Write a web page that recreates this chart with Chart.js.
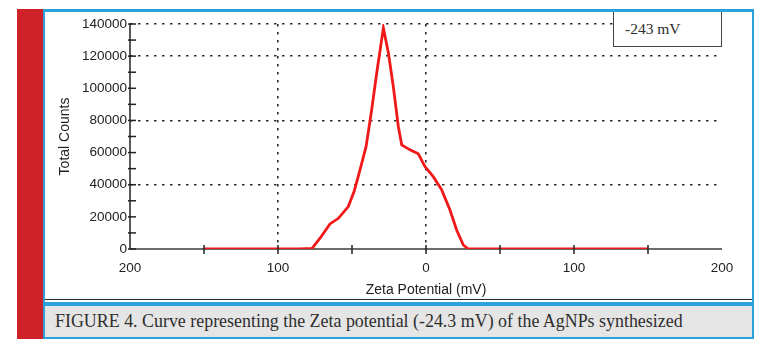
<!DOCTYPE html>
<html>
<head>
<meta charset="utf-8">
<script src="https://cdn.jsdelivr.net/npm/chart.js@4/dist/chart.umd.min.js"></script>
<style>
html,body{margin:0;padding:0;background:#fff;}
#wrap{position:relative;width:768px;height:356px;overflow:hidden;background:#fff;}
#redbar{position:absolute;left:17px;top:9px;width:26px;height:330px;background:#cf2128;}
#frame{position:absolute;left:43px;top:9px;width:707px;height:325px;border-left:2px solid #2aa2db;border-right:2px solid #2aa2db;border-top:3px solid #2aa2db;border-bottom:2px solid #2aa2db;background:#fff;}
#darkline{position:absolute;left:45px;top:299px;width:707px;height:1px;background:#2b2b2b;}
#blueline{position:absolute;left:45px;top:302px;width:707px;height:4px;background:#2aa2db;}
#caption{position:absolute;left:45px;top:306px;width:707px;height:31px;background:#e5e5e5;}
#captext{position:absolute;left:10px;top:0;line-height:31px;height:31px;white-space:nowrap;font-family:"Liberation Serif",serif;font-size:16.5px;color:#2e2e2e;}
#chartbox{position:absolute;left:45px;top:12px;width:707px;height:287px;}
#legendbox{position:absolute;left:613px;top:12px;width:107px;height:34px;border-left:1.5px solid #444;border-right:1.5px solid #444;border-bottom:1.5px solid #444;background:#fff;}
#legendtext{position:absolute;left:11px;top:0;line-height:33px;font-family:"Liberation Serif",serif;font-size:15.5px;color:#2e2e2e;white-space:nowrap;}
</style>
</head>
<body>
<div id="wrap">
  <div id="redbar"></div>
  <div id="frame"></div>
  <div id="chartbox"><canvas id="c" width="707" height="287"></canvas></div>
  <div id="legendbox"><span id="legendtext">-243 mV</span></div>
  <div id="darkline"></div>
  <div id="blueline"></div>
  <div id="caption"><span id="captext">FIGURE 4. Curve representing the Zeta potential (-24.3 mV) of the AgNPs synthesized</span></div>
</div>
<script>
// ---- data ----
const zetaMv = [-150, -86, -77, -71.6, -64.9, -59.2, -52.5, -48.6, -44.6, -40.5, -36.7, -33.3, -28.8, -25.4, -22.1, -18.7, -16.4, -10.8, -5.2, -0.7, 4.9, 10.6, 16.2, 20.7, 25.2, 28.6, 150];
const totalCounts = [0, 0, 400, 6700, 15600, 19100, 26400, 35700, 49200, 63700, 86600, 109500, 137500, 121900, 101100, 76200, 64800, 61700, 59200, 51300, 45000, 36800, 24300, 11800, 2500, 0, 0];
const xTickValues = [-200, -100, 0, 100, 200];
const xTickLabels = ['200', '100', '0', '100', '200'];
const yTickValues = [0, 20000, 40000, 60000, 80000, 100000, 120000, 140000];
const yTickLabels = ['0', '20000', '40000', '60000', '80000', '100000', '120000', '140000'];
const xGridValues = [-100, 0];
const yGridValues = [40000, 80000, 120000, 140000];
const xAxisTitle = 'Zeta Potential (mV)';
const yAxisTitle = 'Total Counts';

// fit caption width to the reference
(function(){
  const el = document.getElementById('captext');
  const target = 628;
  const w = el.getBoundingClientRect().width;
  if (w > 0) el.style.fontSize = (16.5 * target / w).toFixed(2) + 'px';
})();

const axesPlugin = {
  id: 'axesPlugin',
  beforeDatasetsDraw(chart) {
    const {ctx, chartArea: a} = chart;
    ctx.save();
    ctx.lineWidth = 1.5;
    ctx.strokeStyle = '#3a3a3a';
    ctx.beginPath(); ctx.moveTo(a.left, a.bottom); ctx.lineTo(a.right, a.bottom); ctx.stroke();
    ctx.strokeStyle = '#222';
    ctx.beginPath(); ctx.moveTo(a.left, a.top); ctx.lineTo(a.left, a.bottom); ctx.stroke();
    ctx.restore();
  },
  afterDatasetsDraw(chart) {
    const {ctx, chartArea: a, scales: {x, y}} = chart;
    ctx.save();
    ctx.lineWidth = 1.5;
    ctx.strokeStyle = '#222';
    x.ticks.forEach(t => {
      if (t.value <= x.min || t.value >= x.max) return;
      const px = x.getPixelForValue(t.value);
      ctx.beginPath(); ctx.moveTo(px, a.bottom - 4); ctx.lineTo(px, a.bottom + 5); ctx.stroke();
    });
    y.ticks.forEach(t => {
      const py = y.getPixelForValue(t.value);
      ctx.beginPath(); ctx.moveTo(a.left - 2, py); ctx.lineTo(a.left + 6, py); ctx.stroke();
    });
    ctx.restore();
  }
};

new Chart(document.getElementById('c'), {
  type: 'line',
  data: {
    datasets: [{
      data: zetaMv.map((v, i) => ({x: v, y: totalCounts[i]})),
      borderColor: '#f01818',
      borderWidth: 2.8,
      pointRadius: 0,
      tension: 0,
      fill: false
    }]
  },
  options: {
    responsive: false,
    animation: false,
    devicePixelRatio: 1,
    layout: {padding: {left: 0, top: 12, right: 30, bottom: 0}},
    plugins: {legend: {display: false}, tooltip: {enabled: false}},
    scales: {
      x: {
        type: 'linear',
        min: -200, max: 200,
        afterFit(s) { s.height = 50; },
        afterBuildTicks(s) { s.ticks = [-200,-150,-100,-50,0,50,100,150,200].map(v => ({value: v})); },
        ticks: {
          autoSkip: false, maxRotation: 0, padding: 11, color: '#222',
          font: {family: 'Liberation Sans', size: 13.5},
          callback: (v) => { const i = xTickValues.indexOf(v); return i >= 0 ? xTickLabels[i] : ''; }
        },
        grid: {
          drawTicks: false, lineWidth: 1.6,
          color: (c) => (c.tick && xGridValues.includes(c.tick.value)) ? '#2a2a2a' : 'rgba(0,0,0,0)'
        },
        border: {display: false, dash: [2.5, 5.5]},
        title: {display: true, text: xAxisTitle, color: '#222', padding: {top: 0, bottom: 0},
          font: {family: 'Liberation Sans', size: 14, lineHeight: 1.2}}
      },
      y: {
        type: 'linear',
        min: 0, max: 140000,
        afterFit(s) { s.width = 85; },
        afterBuildTicks(s) { const t = []; for (let v = 0; v <= 140000; v += 10000) t.push({value: v}); s.ticks = t; },
        ticks: {
          autoSkip: false, padding: 3, color: '#222',
          font: {family: 'Liberation Sans', size: 13.5},
          callback: (v) => { const i = yTickValues.indexOf(v); return i >= 0 ? yTickLabels[i] : ''; }
        },
        grid: {
          drawTicks: false, lineWidth: 1.6,
          color: (c) => (c.tick && yGridValues.includes(c.tick.value)) ? '#2a2a2a' : 'rgba(0,0,0,0)'
        },
        border: {display: false, dash: [2.5, 5.5]},
        title: {display: true, text: yAxisTitle, color: '#222', padding: {top: 12, bottom: 0},
          font: {family: 'Liberation Sans', size: 14, lineHeight: 1.2}}
      }
    }
  },
  plugins: [axesPlugin]
});
</script>
</body>
</html>
